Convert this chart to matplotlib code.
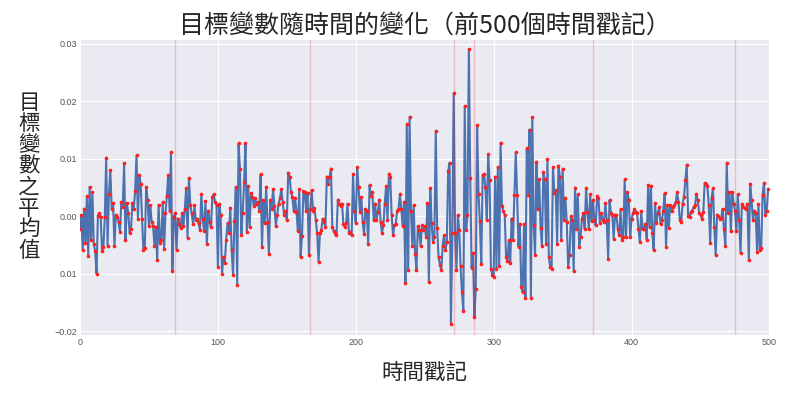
import numpy as np
import matplotlib
matplotlib.use('Agg')
import matplotlib.pyplot as plt

# Valores (em unidades de 0.001), por trechos de ~46 pontos
seg1 = [-2.2, 0.2, -5.9, 1.3, -4.7, 3.5, -7.0, 5.1, -4.2, 4.2, -4.9, -6.0, -10.0, 0.1, 0.5,
        -0.1, -6.0, -5.3, -0.1, 10.2, -5.1, 3.8, 8.0, 1.3, 2.3, -5.2, 0.2, -0.1, -1.0, -2.7,
        2.5, 1.6, 9.2, -4.1, 2.3, 0.5, -2.9, -2.2, 2.3, 1.3, 4.4, 10.6, -0.4, 7.2]
seg2 = [5.7, -0.4, -5.9, -5.6, 5.1, 2.9, -1.7, 1.9, -1.0, -1.7, -5.1, -1.9, -7.6, 2.0, -4.7,
        -4.1, 2.5, -5.7, 0.6, 3.6, 7.2, 0.9, 11.1, -9.6, -0.1, 0.5, -5.8, -0.4, -1.3, -2.0,
        0.5, -1.7, 1.2, 4.9, -3.7, 6.7, 2.0, 0.5, -1.3, 1.9, -0.7, -0.4, -1.2, -2.4, 3.8]
seg3 = [-0.4, -2.6, 2.6, -4.9, 1.0, -1.0, -1.9, 3.4, 3.8, 2.4, 2.0, -8.8, 2.2, 0.2, -10.0,
        -7.1, -8.1, -4.1, -1.2, -3.0, 1.5, -5.9, -10.3, -0.9, 5.1, -11.9, 12.7, 8.3, -3.3, 0.6,
        6.0, 12.7, -2.7, 5.3, -1.9, 4.0, 3.4, 1.8, 3.1, 2.2, 2.5, 0.9, 7.3, -5.3, 2.8, -1.2]
seg4 = [5.1, -1.0, -6.6, 2.8, 1.2, 4.7, 1.8, -1.7, 0.2, 2.2, 3.1, 4.7, 2.4, 0.3, 0.9,
        -0.7, 7.6, 6.9, 4.2, 3.4, 1.0, 3.1, 0.8, -2.6, 4.7, -7.1, -3.5, 4.4, 4.2, 0.9,
        4.1, -6.7, 1.3, 4.5, 1.0, 1.5, -0.7, -3.0, -8.0, -3.0, -2.4, -0.4, -1.0, -1.9, 6.9, 5.7]
seg5 = [6.9, 8.3, -1.9, -2.6, -3.0, -3.3, 2.9, 2.1, 1.8, 2.2, -1.3, -1.9, -1.2, 2.2, -2.9,
        -2.7, -3.3, 7.4, 0.9, -1.2, 8.6, 5.1, 0.8, 3.4, -1.0, -3.1, 1.3, 0.9, -4.9, 5.4,
        3.5, 4.2, -0.7, 2.2, -0.7, 0.8, 2.9, -1.0, -2.9, -1.6, 2.2, 5.3, -0.7, 7.4, 6.9]
seg6 = [0.2, -3.3, -1.6, -1.3, 1.0, 1.3, 3.8, 1.3, -1.7, 2.4, -11.6, 16.0, -9.3, 17.3, 0.9,
        -5.1, 1.9, -6.5, -9.3, -1.7, -2.4, -5.2, -1.6, -2.4, -1.7, -3.6, 2.3, -11.5, 4.9, -1.2,
        -4.5, -3.6, 14.9, -2.0, -7.1, -8.4, -9.4, -5.1, -3.3, -5.9, -4.5, 7.8, 9.3, -18.7, -2.9, 21.4]
seg7 = [-2.9, -9.4, 0.2, -2.4, -8.7, -13.2, -16.5, 19.2, -2.4, 0.2, 29.1, 6.6, -9.0, -6.4, -17.6,
        -12.6, 15.9, 3.8, -0.9, -8.3, 7.2, 7.4, 5.1, -0.6, 10.8, 6.3, -9.1, -10.2, -10.6, 6.9,
        -9.1, 8.6, -8.7, 12.8, 1.7, 0.9, 0.3, -7.1, -7.8, -4.2, -8.1, -0.4, -4.2, 3.7, 11.1]
seg8 = [3.7, -5.3, -1.4, -12.3, -13.2, -1.4, -14.2, 11.8, 3.7, 15.1, -14.2, 17.3, -1.6, -6.8, 9.5,
        1.2, 6.4, -2.0, -5.2, 7.7, 6.4, -4.8, 9.9, -7.1, -8.8, -9.1, 8.6, 4.0, 4.5, -4.9,
        8.8, 6.9, -4.2, 8.3, -0.7, 3.1, -1.0, -8.8, -6.7, 0.0, -0.7, -9.6, 5.0, -2.3, 3.8, -5.3]
seg9 = [-3.6, -0.4, 0.5, -2.2, 4.9, 0.8, -2.3, 3.8, -0.9, 2.8, -0.7, -1.6, 3.5, 3.1, -1.2,
        0.5, -0.7, -1.0, 2.3, -0.7, -7.4, 2.8, 0.5, 0.2, -3.9, 0.3, 0.2, -2.2, -3.3, 1.2,
        -4.2, -3.6, 6.4, -3.6, 4.2, 2.8, -3.6, -0.4, 0.5, 1.3, 0.8, 0.5, -2.2, -4.5, 0.9, -2.3]
seg10 = [-2.2, -1.3, -4.1, 5.4, -1.9, 5.3, -2.9, -5.8, 2.3, -1.2, 0.5, 1.6, -1.4, -0.7, 1.0,
         4.0, -5.3, 2.0, -2.0, 1.9, 1.0, 1.6, 1.9, 2.5, 4.2, 2.5, -0.7, -1.0, 2.2, 3.4,
         6.3, 9.0, 0.0, -0.2, 0.8, 1.0, 1.6, 1.9, 3.8, 2.8, 0.5, 0.3, -0.4, 0.8, 5.8, 5.6]
seg11 = [5.2, 1.9, -4.6, 3.1, 4.9, -1.9, -6.8, 0.3, 0.0, -0.4, -0.3, 1.3, -2.3, -5.1, 9.3,
         0.6, 4.2, -2.6, 4.2, 2.2, 1.0, -2.6, 3.8, -0.6, -6.4, 2.2, 1.6, 1.5, 1.3, 2.2,
         -7.7, 5.7, 2.8, -0.7, 1.0, 0.5, -6.2, 2.1, -5.8, -5.6, 3.7, 5.8, 0.3, 1.0, 4.7]

valores = np.array(seg1 + seg2 + seg3 + seg4 + seg5 + seg6 + seg7 + seg8 + seg9 + seg10 + seg11) / 1000
marcos = [69, 167, 271, 286, 372, 475]
yticks = [-0.02, -0.01, 0.00, 0.01, 0.02, 0.03]
ytick_labels = ['\u22120.02', '0.01', '0.00', '0.01', '0.02', '0.03']
xticks = [0, 100, 200, 300, 400, 500]

plt.style.use('seaborn-v0_8-darkgrid')
cjk = ['Noto Sans CJK TC', 'DejaVu Sans']

fig = plt.figure(figsize=(7.88, 3.99), dpi=100)
ax = fig.add_axes([0.1015, 0.16, 0.875, 0.74])

x = np.arange(len(valores))
ax.plot(x, valores, color='#4c72b0', linewidth=1.5)
ax.plot(x, valores, '.', color='#ff2020', markersize=3.2)
for m in marcos:
    ax.axvline(m, color='red', alpha=0.2, linewidth=1)

ax.set_xlim(0, 500)
ax.set_ylim(-0.0207, 0.0307)
ax.set_xticks(xticks)
ax.set_yticks(yticks)
ax.set_yticklabels(ytick_labels)
ax.tick_params(labelsize=6.5, labelcolor='#555555', pad=2)

ax.set_title('目標變數隨時間的變化（前500個時間戳記）', family=cjk, fontsize=18, pad=5)
ax.set_xlabel('時間戳記', family=cjk, fontsize=15.5, labelpad=11)
ax.set_ylabel('目\n標\n變\n數\n之\n平\n均\n值', family=cjk, fontsize=15.5, rotation=0,
              linespacing=0.95, va='center', ha='center')
ax.yaxis.set_label_coords(-0.074, 0.535)

fig.savefig('out.png', dpi=100)
